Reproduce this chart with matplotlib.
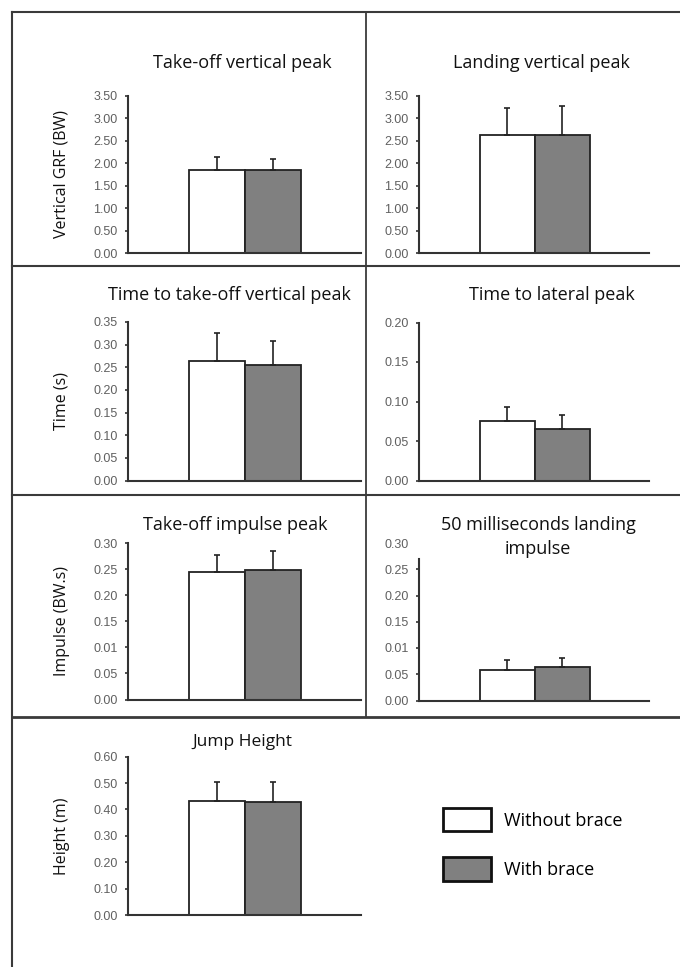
import matplotlib.pyplot as plt
from matplotlib.lines import Line2D
from matplotlib.patches import Patch

# conditions
groups = ["Without brace", "With brace"]
bar_colors = ["#ffffff", "#808080"]

# panel values (mean, sd)
takeoff_peak_mean = [1.84, 1.84]
takeoff_peak_sd = [0.30, 0.26]
landing_peak_mean = [2.64, 2.64]
landing_peak_sd = [0.59, 0.63]
time_takeoff_mean = [0.263, 0.255]
time_takeoff_sd = [0.063, 0.053]
time_lateral_mean = [0.075, 0.065]
time_lateral_sd = [0.018, 0.018]
takeoff_impulse_mean = [0.244, 0.249]
takeoff_impulse_sd = [0.033, 0.036]
landing_impulse_mean = [0.059, 0.064]
landing_impulse_sd = [0.019, 0.017]
jump_height_mean = [0.432, 0.428]
jump_height_sd = [0.072, 0.076]

# tick values / labels (the impulse panels really say 0.01 at the 0.10 tick)
grf_ticks = [0, 0.5, 1.0, 1.5, 2.0, 2.5, 3.0, 3.5]
grf_labels = ["0.00", "0.50", "1.00", "1.50", "2.00", "2.50", "3.00", "3.50"]
time_ticks = [0, 0.05, 0.10, 0.15, 0.20, 0.25, 0.30, 0.35]
time_labels = ["0.00", "0.05", "0.10", "0.15", "0.20", "0.25", "0.30", "0.35"]
lateral_ticks = [0, 0.05, 0.10, 0.15, 0.20]
lateral_labels = ["0.00", "0.05", "0.10", "0.15", "0.20"]
impulse_ticks = [0, 0.05, 0.10, 0.15, 0.20, 0.25, 0.30]
impulse_labels = ["0.00", "0.05", "0.01", "0.15", "0.20", "0.25", "0.30"]
height_ticks = [0, 0.1, 0.2, 0.3, 0.4, 0.5, 0.6]
height_labels = ["0.00", "0.10", "0.20", "0.30", "0.40", "0.50", "0.60"]

W, H = 680, 967
TITLE_FONT = "Open Sans"
TICK_FONT = "Liberation Sans"


def fx(x):
    return x / W


def fy(y):
    return 1 - y / H


def panel(fig, box, mean, sd, ticks, labels, title, title_xy, ylabel=None,
          spine_top=None, title_size=13):
    left, top, right, bottom = box
    ax = fig.add_axes([fx(left), fy(bottom), fx(right - left), (bottom - top) / H])
    x = [0, 1]
    ax.bar(x, mean, width=1.0, color=bar_colors, edgecolor="#222222", linewidth=1.3, zorder=2)
    ax.errorbar(x, mean, yerr=[[0, 0], sd], fmt="none", ecolor="#222222",
                elinewidth=1.2, capsize=2, capthick=1.2, zorder=3)
    ax.set_xlim(-1.6, 2.57)
    ax.set_ylim(0, ticks[-1])
    ax.set_yticks(ticks)
    ax.set_yticklabels(labels, fontsize=9, color="#606060", family=TICK_FONT)
    ax.set_xticks([])
    for s in ["top", "right"]:
        ax.spines[s].set_visible(False)
    for s in ["left", "bottom"]:
        ax.spines[s].set_color("#333333")
        ax.spines[s].set_linewidth(1.5)
    ax.tick_params(axis="y", direction="out", length=2.5, width=1.2, color="#333333", pad=5)
    if spine_top is not None:
        ax.spines["left"].set_bounds(0, spine_top)
        ax.yaxis.get_major_ticks()[-1].tick1line.set_visible(False)
    ax.patch.set_alpha(0)
    fig.text(fx(title_xy[0]), fy(title_xy[1]), title, ha="center", va="center",
             fontsize=title_size, family=TITLE_FONT, color="#111111", linespacing=1.4)
    if ylabel:
        fig.text(fx(62), fy((top + bottom) / 2), ylabel, rotation=90, ha="center",
                 va="center", fontsize=11.5, family=TITLE_FONT, color="#111111")
    return ax


fig = plt.figure(figsize=(6.8, 9.67), dpi=100)

panel(fig, (128, 96, 361, 253), takeoff_peak_mean, takeoff_peak_sd, grf_ticks, grf_labels,
      "Take-off vertical peak", (242, 63), "Vertical GRF (BW)")
panel(fig, (419, 96, 649, 253), landing_peak_mean, landing_peak_sd, grf_ticks, grf_labels,
      "Landing vertical peak", (541, 63))
panel(fig, (128, 322, 361, 480.5), time_takeoff_mean, time_takeoff_sd, time_ticks, time_labels,
      "Time to take-off vertical peak", (229, 295), "Time (s)")
panel(fig, (419, 322.5, 649, 480.5), time_lateral_mean, time_lateral_sd, lateral_ticks,
      lateral_labels, "Time to lateral peak", (552, 295))
panel(fig, (128, 543, 361, 699.5), takeoff_impulse_mean, takeoff_impulse_sd, impulse_ticks,
      impulse_labels, "Take-off impulse peak", (235, 525), "Impulse (BW.s)")
panel(fig, (419, 543, 649, 700.5), landing_impulse_mean, landing_impulse_sd, impulse_ticks,
      impulse_labels, "50 milliseconds landing\nimpulse", (538, 537), spine_top=0.27)
panel(fig, (128, 756.7, 361, 915), jump_height_mean, jump_height_sd, height_ticks,
      height_labels, "Jump Height", (242, 742), "Height (m)", title_size=12.5)

# frame lines of the figure table
frame = [
    ((12, 680), (12, 12), 1.5),
    ((12, 12), (12, 967), 1.5),
    ((12, 680), (266, 266), 1.5),
    ((12, 680), (495, 495), 1.5),
    ((12, 680), (717, 717), 2.0),
    ((366, 366), (12, 717), 1.3),
]
for xs, ys, lw in frame:
    fig.add_artist(Line2D([fx(v) for v in xs], [fy(v) for v in ys],
                          color="#3a3a3a", linewidth=lw))

handles = [Patch(facecolor=c, edgecolor="#111111", linewidth=2) for c in bar_colors]
fig.legend(handles, groups, loc="upper left", bbox_to_anchor=(fx(434), fy(799)),
           frameon=False, borderpad=0, handlelength=2.65, handleheight=1.6,
           handletextpad=0.7, labelspacing=1.45,
           prop={"family": TITLE_FONT, "size": 13})

fig.savefig("out.png", dpi=100)
plt.close(fig)
